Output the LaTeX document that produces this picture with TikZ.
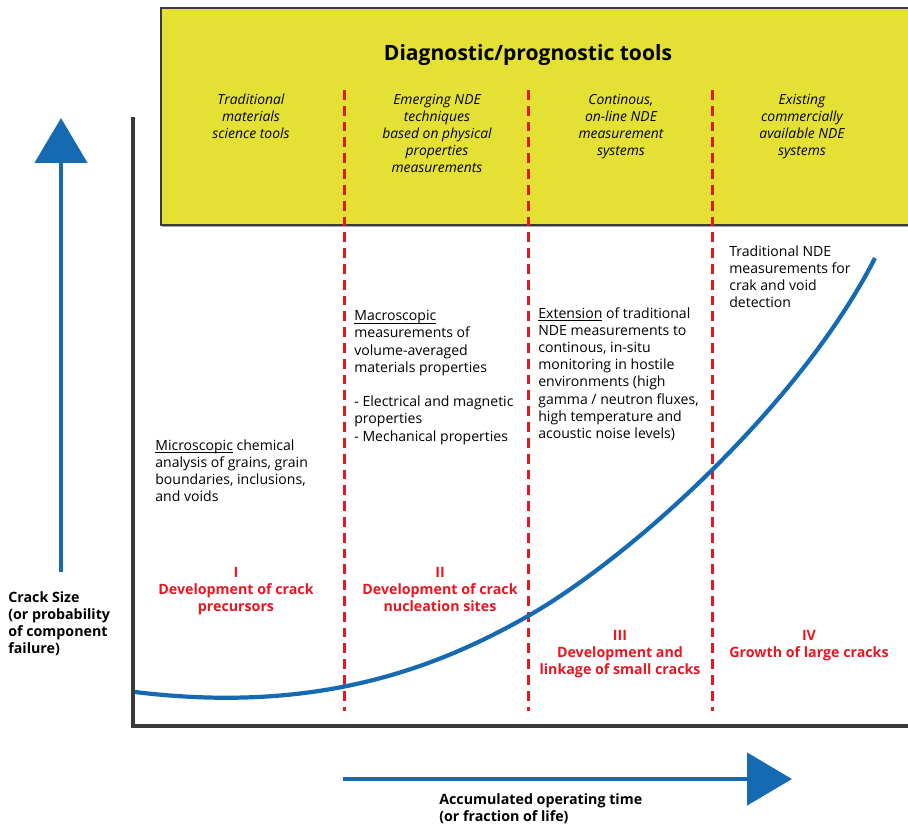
\documentclass[tikz,border=0pt]{standalone}
\usepackage{fontspec}
\setmainfont{Open Sans}
\usepackage{tikz}
\usetikzlibrary{arrows.meta,positioning}
\definecolor{toolyellow}{RGB}{229,225,52}
\definecolor{curveblue}{RGB}{22,106,178}
\definecolor{stagered}{RGB}{232,22,32}
\definecolor{axisgray}{RGB}{58,58,58}
\newcommand{\bodysize}{\fontsize{8}{9.8}\selectfont}
\newcommand{\ul}[1]{\underline{\raisebox{0pt}[\height][0pt]{#1}}}

\begin{document}
\begin{tikzpicture}[x=0.02cm,y=-0.02cm,
  body/.style={anchor=north west,align=left,inner sep=0pt,font=\bodysize},
  toolhead/.style={anchor=north,align=center,inner sep=0pt,font=\fontsize{7.9}{9.7}\selectfont\itshape},
  stagelabel/.style={anchor=north,align=center,inner sep=0pt,text=stagered,font=\fontsize{8.1}{9.7}\selectfont\bfseries},
  axislabel/.style={anchor=north west,align=left,inner sep=0pt,font=\fontsize{8.1}{9.7}\selectfont\bfseries},
  bigarrow/.style={curveblue,line width=2.8pt,-{Triangle[length=0.9cm,width=1.04cm]}},
  phase/.style={stagered,line width=1.7pt,dash pattern=on 5.6pt off 3.4pt}]
\useasboundingbox (0,0) rectangle (908,825);

% tools banner
\fill[black!35] (162,9) rectangle (910,227);
\draw[axisgray,fill=toolyellow,line width=0.6pt] (161,8) rectangle (912,225);
\node[font=\fontsize{12}{14}\selectfont\bfseries] (tools) at (528,55) {Diagnostic/prognostic tools};
\node[toolhead] (tool1) at (251,94) {Traditional\\materials\\science tools};
\node[toolhead] (tool2) at (437,94) {Emerging NDE\\techniques\\based on physical\\properties\\measurements};
\node[toolhead] (tool3) at (621,94) {Continous,\\on-line NDE\\measurement\\systems};
\node[toolhead] (tool4) at (802,94) {Existing\\commercially\\available NDE\\systems};

% axes
\draw[axisgray,line width=2.3pt] (133,117) -- (133,726) -- (912,726);

% stage boundaries
\foreach \x in {344,528,712}
\draw[phase] (\x,90) -- (\x,711);

% crack growth curve
\draw[curveblue,line width=2.4pt] (135,692) .. controls (300,712) and (420,678) .. (528,616)
  .. controls (630,558) and (800,405) .. (875,258);

% axis arrows
\coordinate (ybot) at (61,572);
\coordinate (ytop) at (61,118);
\coordinate (xleft) at (343,779);
\coordinate (xright) at (792,779);
\draw[bigarrow] (ybot) -- (ytop);
\draw[bigarrow] (xleft) -- (xright);
\node[axislabel] (ylabel) at (8,591) {Crack Size\\(or probability\\of component\\failure)};
\node[axislabel] (xlabel) at (439,793) {Accumulated operating time\\(or fraction of life)};

% measurement notes
\node[body] (micro) at (155,439) {\ul{Microscopic} chemical\\analysis of grains, grain\\boundaries, inclusions,\\and voids};
\node[body] (macro) at (354,310) {\ul{Macroscopic}\\measurements of\\volume-averaged\\materials properties\\[9.8pt]- Electrical and magnetic\\properties\\- Mechanical properties};
\node[body] (ext) at (538,307) {\ul{Extension} of traditional\\NDE measurements to\\continous, in-situ\\monitoring in hostile\\environments (high\\gamma / neutron fluxes,\\high temperature and\\acoustic noise levels)};
\node[body] (trad) at (729,245) {Traditional NDE\\measurements for\\crak and void\\detection};

% stages
\node[stagelabel] (st1) at (236,567) {I\\Development of crack\\precursors};
\node[stagelabel] (st2) at (440,567) {II\\Development of crack\\nucleation sites};
\node[stagelabel] (st3) at (620,630) {III\\Development and\\linkage of small cracks};
\node[stagelabel] (st4) at (809,630) {IV\\Growth of large cracks};
\end{tikzpicture}
\end{document}
